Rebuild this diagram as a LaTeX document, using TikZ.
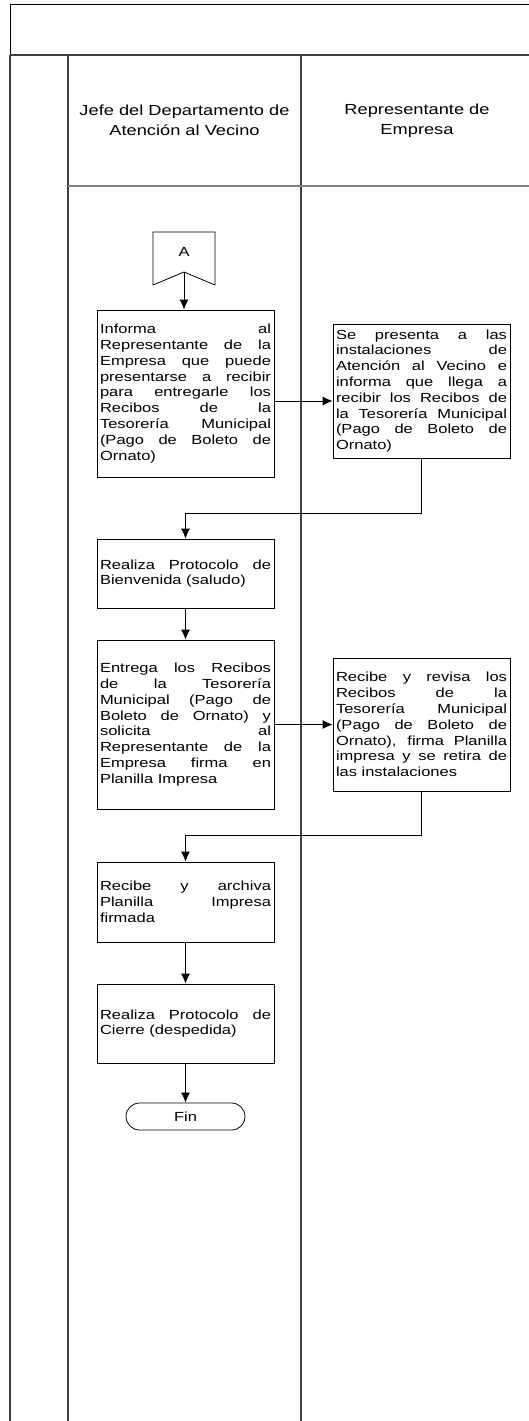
\documentclass[tikz,border=0pt]{standalone}
\usepackage{fontspec}
\setmainfont{Liberation Sans}
\newfontfamily\wideface[FakeStretch=1.25]{Liberation Sans}
\usetikzlibrary{arrows.meta}
\newcommand{\boxfont}{\wideface\fontsize{13.2}{15.8}\selectfont}
\newcommand{\headfont}{\wideface\fontsize{14.6}{20}\selectfont}
\newcommand{\jl}[1]{\noindent\hbox to \hsize{\spaceskip=0pt\xspaceskip=0pt #1}\par}
\tikzset{>={Latex[length=10pt,width=9pt]}}
\tikzset{
  lane/.style = {line width=1.3pt, black!75},
  flow/.style = {->, line width=0.8pt},
  task/.style = {draw, line width=0.8pt, text width=171pt, inner xsep=3pt, inner ysep=0pt, align=justify, font=\boxfont},
  lanehead/.style = {align=center, font=\headfont},
  finbox/.style = {draw, line width=0.8pt, rounded corners=13.5pt, minimum width=119pt, minimum height=27pt, font=\boxfont}
}

\begin{document}
\begin{tikzpicture}[x=1pt,y=-1pt]
  \useasboundingbox (0,0) rectangle (528,1421);
  % swimlanes
  \draw[line width=0.8pt] (10,55) -- (10,4) -- (530,4);
  \draw[lane] (10,55) -- (530,55);
  \draw[lane] (10,55) -- (10,1421);
  \draw[lane] (68,55) -- (68,1421);
  \draw[lane] (301,55) -- (301,1421);
  \draw[lane,black!50] (68,186) -- (530,186);
  \node[lanehead] (jefe) at (184.5,120.5) {Jefe del Departamento de\\Atención al Vecino};
  \node[lanehead] (repr) at (417,120.5) {Representante de\\Empresa};

  % connector A
  \draw[line width=0.8pt] (153,232) -- (215,232) -- (215,285) -- (184,272) -- (153,285) -- cycle;
  \node[font=\boxfont] (conA) at (184,252) {A};
  \coordinate (notch) at (184,272);

  \node[task,minimum height=167pt] (b1) at (185.5,393.5) {%
    \jl{Informa al}\jl{Representante de la}\jl{Empresa que puede}%
    \jl{presentarse a recibir}\jl{para entregarle los}\jl{Recibos de la}%
    \jl{Tesorería Municipal}\jl{(Pago de Boleto de}\jl{Ornato)\hfill}};
  \node[task,minimum height=134pt] (b2) at (421.5,391) {%
    \jl{Se presenta a las}\jl{instalaciones de}\jl{Atención al Vecino e}%
    \jl{informa que llega a}\jl{recibir los Recibos de}\jl{la Tesorería Municipal}%
    \jl{(Pago de Boleto de}\jl{Ornato)\hfill}};
  \node[task,minimum height=69pt] (b3) at (185.5,573.5) {%
    \jl{Realiza Protocolo de}\jl{Bienvenida (saludo)\hfill}};
  \node[task,minimum height=169pt] (b4) at (185.5,724.5) {%
    \jl{Entrega los Recibos}\jl{de la Tesorería}\jl{Municipal (Pago de}%
    \jl{Boleto de Ornato) y}\jl{solicita al}\jl{Representante de la}%
    \jl{Empresa firma en}\jl{Planilla Impresa\hfill}};
  \node[task,minimum height=133pt] (b5) at (421.5,724.5) {%
    \jl{Recibe y revisa los}\jl{Recibos de la}\jl{Tesorería Municipal}%
    \jl{(Pago de Boleto de}\jl{Ornato), firma Planilla}\jl{impresa y se retira de}%
    \jl{las instalaciones\hfill}};
  \node[task,minimum height=80pt] (b6) at (185.5,902) {%
    \jl{Recibe y archiva}\jl{Planilla Impresa}\jl{firmada\hfill}};
  \node[task,minimum height=79pt] (b7) at (185.5,1023.5) {%
    \jl{Realiza Protocolo de}\jl{Cierre (despedida)\hfill}};
  \node[finbox] (fin) at (185.5,1116.5) {Fin};

  % connectors
  \draw[flow] (notch) -- (notch |- b1.north);
  \draw[flow] ([yshift=-7.5pt]b1.east) -- ([yshift=-7.5pt]b1.east -| b2.west);
  \draw[flow] (b2.south) -- ++(0,55) -| (b3.north);
  \draw[flow] (b3) -- (b4);
  \draw[flow] (b4) -- (b5);
  \draw[flow] (b5.south) -- ++(0,44) -| (b6.north);
  \draw[flow] (b6) -- (b7);
  \draw[flow] (b7) -- (fin);
\end{tikzpicture}
\end{document}
